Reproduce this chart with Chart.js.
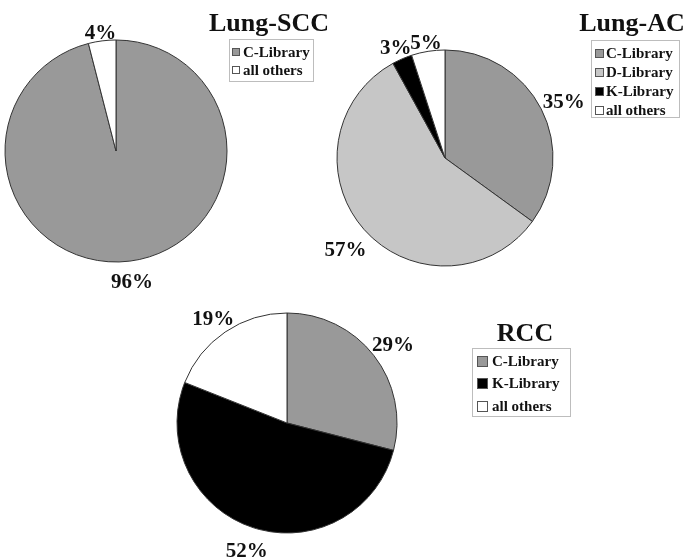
<!DOCTYPE html>
<html>
<head>
<meta charset="utf-8">
<script src="https://cdn.jsdelivr.net/npm/chart.js@4.4.0/dist/chart.umd.min.js"></script>
<style>
  html, body { margin: 0; padding: 0; background: #fff; }
  #wrap { position: relative; width: 685px; height: 559px; overflow: hidden; background: #fff;
          font-family: "Liberation Serif", "Times New Roman", serif; color: #111; }
  #wrap canvas { position: absolute; left: 0; top: 0; }
  .title { position: absolute; font-weight: bold; font-size: 26px; line-height: 1; white-space: nowrap;
           transform: translateX(-50%); }
  .legend { position: absolute; border: 1px solid #bdbdbd; box-sizing: border-box; background: #fff; }
  .legend .txt { position: absolute; font-weight: bold; font-size: 15px; line-height: 1; white-space: nowrap; }
  .legend .sw { position: absolute; border: 1px solid #555; box-sizing: border-box; }
</style>
</head>
<body>
<div id="wrap"></div>
<script>
// Share of each library, per tumour type (percent)
const sccLabels = ['C-Library', 'all others'];
const sccValues = [96, 4];

const acLabels = ['C-Library', 'D-Library', 'K-Library', 'all others'];
const acValues = [35, 57, 3, 5];

const rccLabels = ['C-Library', 'K-Library', 'all others'];
const rccValues = [29, 52, 19];

const libraryColors = {
  'C-Library': '#999999',
  'D-Library': '#c6c6c6',
  'K-Library': '#000000',
  'all others': '#ffffff'
};

const W = 685, H = 559;

// Layout of each panel: pie centre/radius, title and legend placement
const panels = [
  { title: 'Lung-SCC', labels: sccLabels, values: sccValues,
    cx: 116, cy: 151, r: 111,
    titleX: 269, titleBase: 32,
    legend: { left: 229, top: 39, width: 85, height: 43, rows: [13, 31], sw: 8, swLeft: 3, textLeft: 14 } },
  { title: 'Lung-AC', labels: acLabels, values: acValues,
    cx: 445, cy: 158, r: 108,
    titleX: 632, titleBase: 32,
    legend: { left: 591, top: 40, width: 89, height: 78, rows: [13, 32, 51, 70], sw: 9, swLeft: 4, textLeft: 15 } },
  { title: 'RCC', labels: rccLabels, values: rccValues,
    cx: 287, cy: 423, r: 110,
    titleX: 525, titleBase: 342,
    legend: { left: 472, top: 348, width: 99, height: 69, rows: [13, 35, 58], sw: 11, swLeft: 5, textLeft: 20 } }
];

// Percentage labels just outside each slice, along its middle angle
const pctLabels = {
  id: 'pctLabels',
  afterDatasetsDraw(chart, args, opts) {
    const ctx = chart.ctx;
    const meta = chart.getDatasetMeta(0);
    const vals = chart.data.datasets[0].data;
    ctx.save();
    ctx.font = 'bold ' + opts.size + 'px "Liberation Serif", "Times New Roman", serif';
    ctx.fillStyle = '#111';
    ctx.textAlign = 'center';
    ctx.textBaseline = 'middle';
    meta.data.forEach((arc, i) => {
      const p = arc.getProps(['x', 'y', 'startAngle', 'endAngle', 'outerRadius'], true);
      const mid = (p.startAngle + p.endAngle) / 2;
      const c = Math.cos(mid), s = Math.sin(mid);
      const text = vals[i] + '%';
      const w = ctx.measureText(text).width;
      const h = opts.size * 0.72;
      const down = Math.max(0, s);
      const d = p.outerRadius + opts.pad + Math.abs(c) * w / 2 + Math.abs(s) * h / 2
              + opts.dropExtra * Math.pow(down, 4);
      ctx.fillText(text, p.x + c * d, p.y + s * d + opts.dy);
    });
    ctx.restore();
  }
};

const wrap = document.getElementById('wrap');

panels.forEach(pn => {
  const canvas = document.createElement('canvas');
  canvas.width = W; canvas.height = H;
  canvas.style.width = W + 'px'; canvas.style.height = H + 'px';
  wrap.appendChild(canvas);

  const side = 2 * pn.r + 1;
  const left = pn.cx - side / 2, top = pn.cy - side / 2;

  new Chart(canvas, {
    type: 'pie',
    data: {
      labels: pn.labels,
      datasets: [{
        data: pn.values,
        backgroundColor: pn.labels.map(l => libraryColors[l]),
        borderColor: '#333333',
        borderWidth: 1
      }]
    },
    options: {
      responsive: false,
      animation: false,
      devicePixelRatio: 1,
      radius: pn.r,
      layout: { padding: { left: left, top: top, right: W - left - side, bottom: H - top - side } },
      plugins: {
        legend: { display: false },
        tooltip: { enabled: false },
        pctLabels: { size: 21, pad: 3, dropExtra: 4, dy: 5 }
      }
    },
    plugins: [pctLabels]
  });

  // Title
  const t = document.createElement('div');
  t.className = 'title';
  t.textContent = pn.title;
  t.style.left = pn.titleX + 'px';
  t.style.top = (pn.titleBase - 0.8375 * 26) + 'px';
  wrap.appendChild(t);

  // Legend box
  const lg = pn.legend;
  const box = document.createElement('div');
  box.className = 'legend';
  box.style.left = lg.left + 'px';
  box.style.top = lg.top + 'px';
  box.style.width = lg.width + 'px';
  box.style.height = lg.height + 'px';
  pn.labels.forEach((lab, i) => {
    const yc = lg.rows[i] - 1;
    const sw = document.createElement('div');
    sw.className = 'sw';
    sw.style.left = (lg.swLeft - 1) + 'px';
    sw.style.top = (yc - lg.sw / 2) + 'px';
    sw.style.width = lg.sw + 'px';
    sw.style.height = lg.sw + 'px';
    sw.style.background = libraryColors[lab];
    box.appendChild(sw);
    const tx = document.createElement('div');
    tx.className = 'txt';
    tx.textContent = lab;
    tx.style.left = (lg.textLeft - 1) + 'px';
    tx.style.top = (yc - 7.5) + 'px';
    box.appendChild(tx);
  });
  wrap.appendChild(box);
});
</script>
</body>
</html>
